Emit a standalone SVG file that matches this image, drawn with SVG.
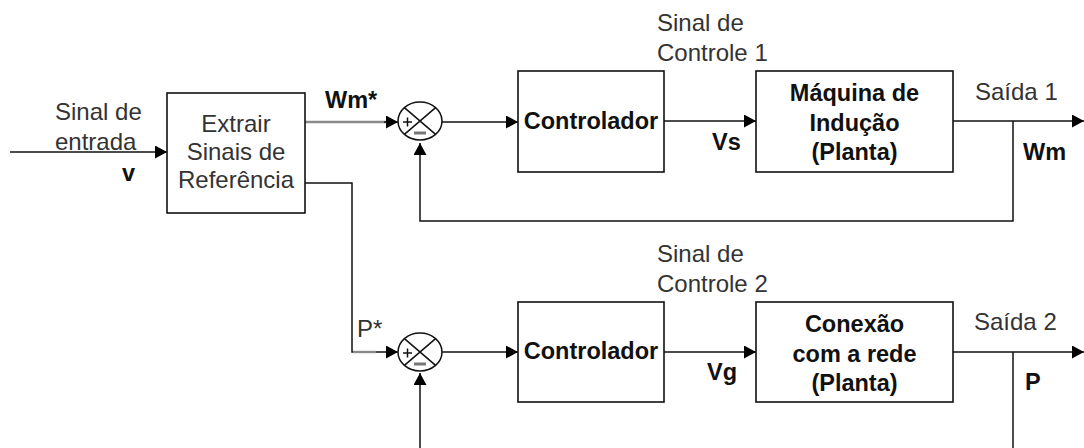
<svg xmlns="http://www.w3.org/2000/svg" width="1084" height="448" viewBox="0 0 1084 448">
<defs>
<marker id="arr" viewBox="0 0 12 13" refX="12" refY="6.5" markerWidth="12" markerHeight="13" markerUnits="userSpaceOnUse" orient="auto">
<path d="M0,0 L12,6.5 L0,13 Z" fill="#000"/>
</marker>
<style>
.box{fill:#fff;stroke:#111;stroke-width:1.6}
.ln{fill:none;stroke:#111;stroke-width:1.5}
.gl{fill:none;stroke:#8a8a8a;stroke-width:2.4}
.sum{fill:#fff;stroke:#111;stroke-width:1.5}
.t{font-family:"Liberation Sans",Arial,sans-serif;font-size:24px;fill:#333}
.b{font-family:"Liberation Sans",Arial,sans-serif;font-size:23.5px;font-weight:bold;fill:#111}
.c{text-anchor:middle}
</style>
</defs>
<rect width="1084" height="448" fill="#fff"/>

<g id="connectors">
<line class="ln" x1="10" y1="152" x2="167" y2="152" marker-end="url(#arr)"/>
<line class="gl" x1="305" y1="122" x2="386" y2="122"/>
<line class="ln" x1="384" y1="122" x2="398" y2="122" marker-end="url(#arr)"/>
<polyline class="ln" points="305,183 352,183 352,352 398,352" marker-end="url(#arr)"/>
<line class="gl" x1="353" y1="352" x2="376" y2="352"/>
<line class="ln" x1="442" y1="122" x2="518" y2="122" marker-end="url(#arr)"/>
<line class="ln" x1="664" y1="121" x2="756" y2="121" marker-end="url(#arr)"/>
<line class="ln" x1="953" y1="121" x2="1084" y2="121" marker-end="url(#arr)"/>
<polyline class="ln" points="1013,121 1013,221 420,221 420,143" marker-end="url(#arr)"/>
<line class="ln" x1="442" y1="352" x2="518" y2="352" marker-end="url(#arr)"/>
<line class="ln" x1="664" y1="352" x2="756" y2="352" marker-end="url(#arr)"/>
<line class="ln" x1="953" y1="352" x2="1084" y2="352" marker-end="url(#arr)"/>
<line class="ln" x1="1013" y1="352" x2="1013" y2="448"/>
<line class="ln" x1="420" y1="448" x2="420" y2="373" marker-end="url(#arr)"/>
</g>

<g id="labels">
<text class="t" x="55" y="120">Sinal de</text>
<text class="t" x="55" y="150">entrada</text>
<text class="b" x="122" y="181">v</text>
<text class="b" x="325" y="108">Wm*</text>
<text class="t" x="357" y="337">P*</text>
<text class="t" x="657" y="31">Sinal de</text>
<text class="t" x="657" y="61">Controle 1</text>
<text class="t" x="657" y="262">Sinal de</text>
<text class="t" x="657" y="292">Controle 2</text>
<text class="b" x="712" y="150">Vs</text>
<text class="b" x="707" y="380">Vg</text>
<text class="t" x="975" y="100">Saída 1</text>
<text class="b" x="1023" y="160">Wm</text>
<text class="t" x="974" y="330">Saída 2</text>
<text class="b" x="1025" y="390">P</text>
</g>

<g id="extrair">
<rect class="box" x="167" y="93" width="138" height="120"/>
<text class="t c" x="236" y="132">Extrair</text>
<text class="t c" x="236" y="160">Sinais de</text>
<text class="t c" x="236" y="188">Referência</text>
</g>

<g id="sum1">
<ellipse class="sum" cx="420" cy="121" rx="22" ry="19"/>
<path class="ln" d="M404.4,107.6 L435.6,134.4 M435.6,107.6 L404.4,134.4"/>
<path class="ln" d="M403,122 h9 M407.5,117.5 v9"/>
<path d="M414,133 h12" stroke="#777" stroke-width="3"/>
</g>

<g id="controlador1">
<rect class="box" x="518" y="71" width="146" height="101"/>
<text class="b c" x="591" y="129">Controlador</text>
</g>

<g id="maquina">
<rect class="box" x="756" y="71" width="197" height="101"/>
<text class="b c" x="854.5" y="101">Máquina de</text>
<text class="b c" x="854.5" y="131">Indução</text>
<text class="b c" x="854.5" y="160">(Planta)</text>
</g>

<g id="sum2">
<ellipse class="sum" cx="420" cy="352" rx="22" ry="19"/>
<path class="ln" d="M404.4,338.6 L435.6,365.4 M435.6,338.6 L404.4,365.4"/>
<path class="ln" d="M403,353 h9 M407.5,348.5 v9"/>
<path d="M414,364 h12" stroke="#777" stroke-width="3"/>
</g>

<g id="controlador2">
<rect class="box" x="518" y="302" width="146" height="100"/>
<text class="b c" x="591" y="359">Controlador</text>
</g>

<g id="conexao">
<rect class="box" x="756" y="302" width="197" height="100"/>
<text class="b c" x="854.5" y="332">Conexão</text>
<text class="b c" x="854.5" y="362">com a rede</text>
<text class="b c" x="854.5" y="391">(Planta)</text>
</g>
</svg>
